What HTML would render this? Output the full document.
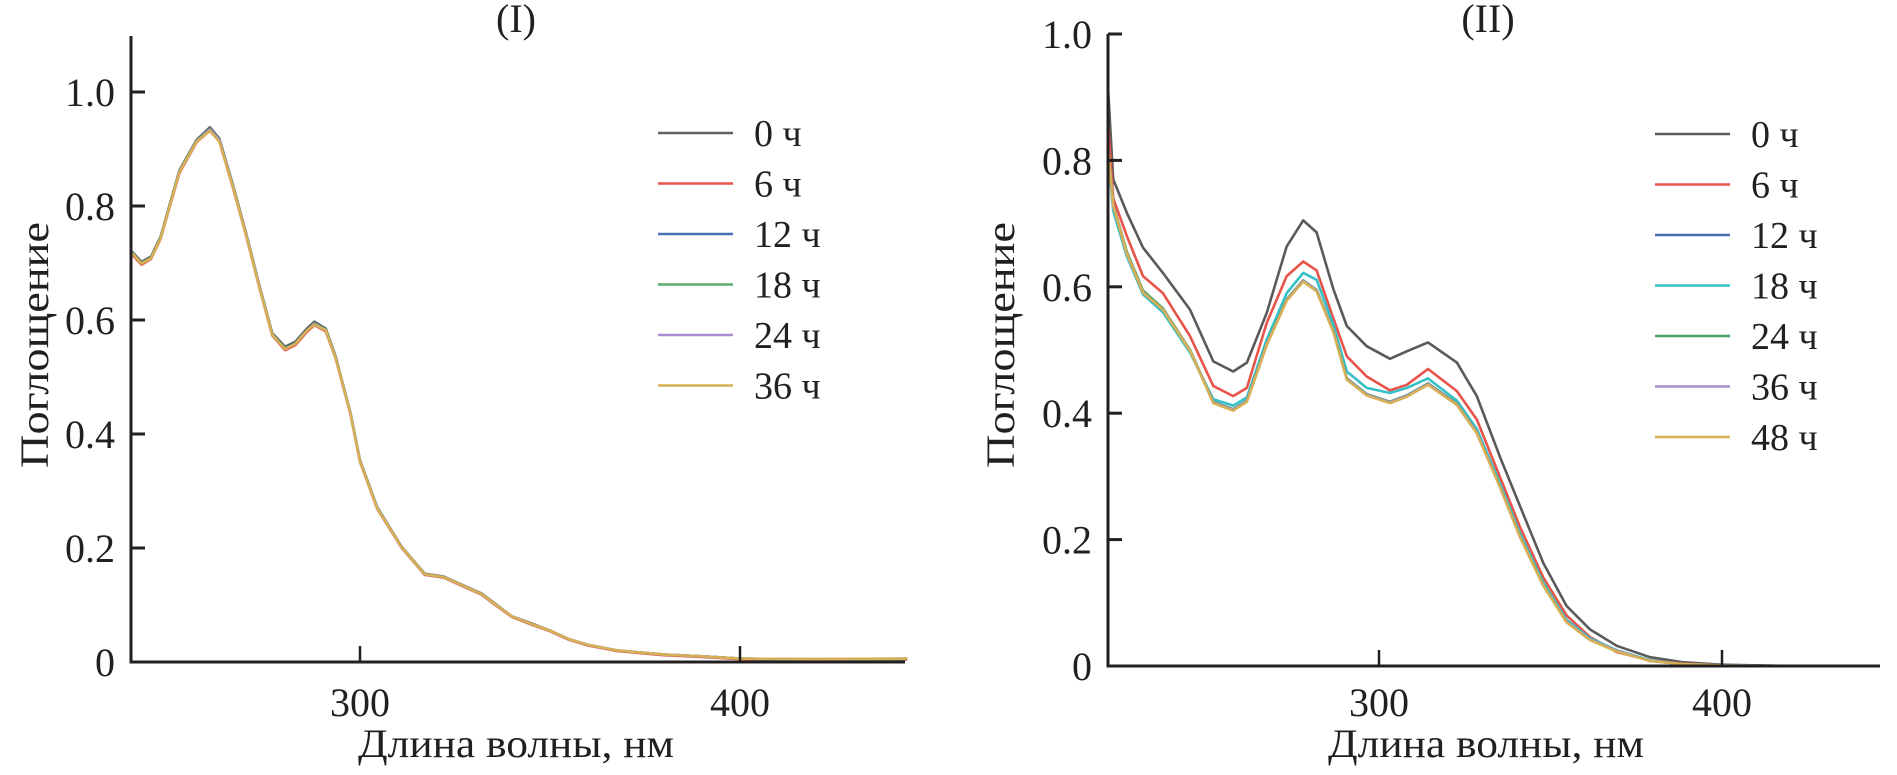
<!DOCTYPE html>
<html><head><meta charset="utf-8"><style>
html,body{margin:0;padding:0;background:#fff;}
svg{display:block;}
text{font-family:"Liberation Serif",serif;fill:#231f20;}
</style></head><body>
<svg id="fig" width="1897" height="775" viewBox="0 0 1897 775" xmlns="http://www.w3.org/2000/svg">
<g id="panel1"></g>
<g id="panel2"></g>
</svg>
<script>
// ---- Panel I data ----
const wlI = [240,242.5,245,247.5,252.5,257,260.5,263,266.4,270,273.5,276.9,280.3,283,286,288,291,293.6,295,297.5,300,304.5,311,317,322,327,332,335,340,345,350,355,360,368,380,390,400,420,444];
const i0h  = [0.72,0.702,0.711,0.746,0.863,0.916,0.938,0.918,0.841,0.753,0.661,0.577,0.553,0.562,0.585,0.597,0.585,0.536,0.5,0.437,0.354,0.272,0.202,0.155,0.15,0.135,0.12,0.105,0.08,0.068,0.055,0.04,0.03,0.02,0.013,0.01,0.006,0.004,0.005];
const i6h  = [0.715,0.697,0.707,0.742,0.858,0.912,0.932,0.913,0.836,0.749,0.657,0.573,0.547,0.556,0.579,0.591,0.58,0.532,0.497,0.434,0.351,0.269,0.2,0.153,0.148,0.133,0.118,0.103,0.079,0.066,0.054,0.039,0.029,0.019,0.012,0.009,0.005,0.003,0.004];
const i12h = [0.718,0.7,0.709,0.744,0.861,0.914,0.935,0.916,0.839,0.751,0.659,0.575,0.55,0.559,0.582,0.594,0.583,0.534,0.499,0.436,0.353,0.271,0.201,0.154,0.149,0.134,0.119,0.104,0.08,0.067,0.055,0.04,0.03,0.02,0.013,0.01,0.006,0.004,0.005];
const i18h = [0.718,0.7,0.709,0.744,0.861,0.914,0.935,0.916,0.839,0.751,0.659,0.575,0.55,0.559,0.582,0.594,0.583,0.534,0.499,0.436,0.353,0.271,0.201,0.154,0.149,0.134,0.119,0.104,0.08,0.067,0.055,0.04,0.03,0.02,0.013,0.01,0.006,0.004,0.005];
const i24h = [0.717,0.699,0.708,0.743,0.86,0.913,0.934,0.915,0.838,0.75,0.658,0.574,0.549,0.558,0.581,0.593,0.582,0.533,0.498,0.435,0.352,0.27,0.201,0.154,0.149,0.134,0.119,0.104,0.08,0.067,0.055,0.04,0.03,0.02,0.013,0.01,0.006,0.005,0.006];
const i36h = [0.717,0.699,0.708,0.743,0.86,0.913,0.932,0.913,0.837,0.75,0.658,0.574,0.549,0.558,0.581,0.592,0.582,0.533,0.498,0.435,0.352,0.27,0.201,0.154,0.149,0.134,0.119,0.104,0.08,0.067,0.055,0.04,0.03,0.02,0.013,0.01,0.006,0.005,0.006];
const labelsI = ["0 ч","6 ч","12 ч","18 ч","24 ч","36 ч"];
const yTicksI = [0,0.2,0.4,0.6,0.8,1.0];
const xTicks = [300,400];

// ---- Panel II data ----
const wlII = [221,222.5,226.5,231.2,237,244.9,251.7,257.5,261.5,267.3,273.1,277.9,281.8,286.7,290.6,296.4,303.2,308.1,314.3,322.7,328.5,335.2,341.1,347.9,354.7,361.5,369.3,379,388.4,399.7,420.3,446];
const ii0h  = [0.915,0.77,0.717,0.662,0.622,0.564,0.482,0.466,0.48,0.559,0.664,0.705,0.686,0.596,0.538,0.506,0.486,0.498,0.512,0.48,0.427,0.332,0.253,0.163,0.095,0.058,0.032,0.014,0.006,0.002,0,0];
const ii6h  = [0.86,0.74,0.68,0.617,0.59,0.522,0.443,0.427,0.44,0.543,0.617,0.64,0.626,0.55,0.49,0.458,0.436,0.445,0.47,0.435,0.39,0.30,0.22,0.14,0.08,0.046,0.022,0.009,0.004,0.001,0,0];
const ii12h = [0.82,0.73,0.653,0.592,0.565,0.50,0.418,0.406,0.42,0.51,0.58,0.61,0.595,0.53,0.455,0.43,0.418,0.428,0.447,0.415,0.37,0.285,0.205,0.128,0.07,0.042,0.024,0.008,0.003,0.001,0,0];
const ii18h = [0.81,0.72,0.648,0.588,0.56,0.496,0.422,0.412,0.425,0.517,0.59,0.622,0.611,0.54,0.466,0.44,0.432,0.44,0.455,0.42,0.375,0.29,0.21,0.132,0.073,0.044,0.025,0.009,0.003,0.001,0,0];
const ii24h = [0.82,0.73,0.655,0.594,0.566,0.50,0.418,0.406,0.42,0.51,0.58,0.61,0.595,0.53,0.455,0.43,0.418,0.428,0.447,0.415,0.37,0.285,0.205,0.128,0.07,0.042,0.024,0.008,0.003,0.001,0,0];
const ii36h = [0.818,0.728,0.652,0.591,0.564,0.499,0.417,0.405,0.419,0.509,0.579,0.609,0.594,0.529,0.454,0.429,0.417,0.427,0.446,0.414,0.369,0.284,0.204,0.127,0.07,0.042,0.024,0.008,0.003,0.001,0,0];
const ii48h = [0.82,0.729,0.652,0.591,0.564,0.499,0.416,0.404,0.418,0.508,0.578,0.608,0.593,0.528,0.453,0.428,0.416,0.426,0.445,0.413,0.368,0.284,0.204,0.127,0.069,0.041,0.023,0.008,0.003,0.001,0,0];
const labelsII = ["0 ч","6 ч","12 ч","18 ч","24 ч","36 ч","48 ч"];
const yTicksII = [0,0.2,0.4,0.6,0.8,1.0];

const NS = "http://www.w3.org/2000/svg";
function mk(parent, tag, attrs, txt){
  const el = document.createElementNS(NS, tag);
  for (const k in attrs) el.setAttribute(k, attrs[k]);
  if (txt !== undefined) el.textContent = txt;
  parent.appendChild(el);
  return el;
}

function drawPanel(g, cfg){
  const sx = v => cfg.x300 + (v - 300) * cfg.pxPerNm;
  const sy = v => cfg.y0 - v * cfg.pxPerUnit;
  cfg.series.forEach((s, i) => {
    let d = "";
    cfg.wl.forEach((w, j) => { d += (j ? "L" : "M") + sx(w).toFixed(1) + " " + sy(s[j]).toFixed(1); });
    const p = mk(g, "path", {d: d, fill: "none", stroke: cfg.colors[i], "stroke-width": 2.6, "stroke-linejoin": "round"});
    
    
  });
  const ax = mk(g, "path", {d: `M${cfg.axL} ${cfg.axTop}V${cfg.y0}H${cfg.axR}`, fill: "none", stroke: "#231f20", "stroke-width": 3});
  
  
  cfg.yTicks.forEach(t => {
    const y = sy(t);
    if (t > 0) {
      const tk = mk(g, "line", {x1: cfg.axL, x2: cfg.axL + 14, y1: y, y2: y, stroke: "#231f20", "stroke-width": 3});
      
      
    }
    const tl = mk(g, "text", {x: cfg.axL - 16, y: y + 14, "text-anchor": "end", "font-size": 40}, t === 0 ? "0" : t.toFixed(1));
    
    
  });
  xTicks.forEach(t => {
    const x = sx(t);
    const tk = mk(g, "line", {x1: x, x2: x, y1: cfg.y0, y2: cfg.y0 - 16, stroke: "#231f20", "stroke-width": 2.5});
    
    
    const tl = mk(g, "text", {x: x, y: 716, "text-anchor": "middle", "font-size": 40}, String(t));
    
    
  });
  const xt = mk(g, "text", {x: cfg.xTitleX, y: 757, "text-anchor": "middle", "font-size": 40, textLength: 316, lengthAdjust: "spacingAndGlyphs"}, "Длина волны, нм");
  
  
  const yt = mk(g, "text", {x: 0, y: 0, "text-anchor": "middle", "font-size": 40, textLength: 246, lengthAdjust: "spacingAndGlyphs", transform: `translate(${cfg.yTitleX},345) rotate(-90)`}, "Поглощение");
  
  
  const pt = mk(g, "text", {x: cfg.titleX, y: 32, "text-anchor": "middle", "font-size": 40}, cfg.title);
  
  
  cfg.labels.forEach((lab, i) => {
    const y = cfg.legY + i * 50.5;
    const lg = mk(g, "g", {});
    
    
    mk(lg, "line", {x1: cfg.legX, x2: cfg.legX + 75, y1: y, y2: y, stroke: cfg.colors[i], "stroke-width": 2.6});
    mk(lg, "text", {x: cfg.legX + 96, y: y + 13, "font-size": 38}, lab);
  });
}

drawPanel(document.getElementById("panel1"), {
  wl: wlI, series: [i0h,i6h,i12h,i18h,i24h,i36h], labels: labelsI,
  colors: ["#606060","#e8534a","#4a6fb5","#5aab6e","#a98bd0","#d7b056"],
  x300: 360, pxPerNm: 3.8, y0: 662, pxPerUnit: 570,
  axL: 131, axR: 905, axTop: 36, yTicks: yTicksI,
  xTitleX: 516, yTitleX: 48, titleX: 516, title: "(I)", legX: 658, legY: 133
});
drawPanel(document.getElementById("panel2"), {
  wl: wlII, series: [ii0h,ii6h,ii12h,ii18h,ii24h,ii36h,ii48h], labels: labelsII,
  colors: ["#5a5a5a","#e8534a","#4a6fb5","#35c0c8","#4f9e68","#a98bd0","#d7b056"],
  x300: 1379, pxPerNm: 3.43, y0: 666, pxPerUnit: 632,
  axL: 1108, axR: 1880, axTop: 34, yTicks: yTicksII,
  xTitleX: 1486, yTitleX: 1014, titleX: 1488, title: "(II)", legX: 1655, legY: 134
});
</script>
</body></html>
